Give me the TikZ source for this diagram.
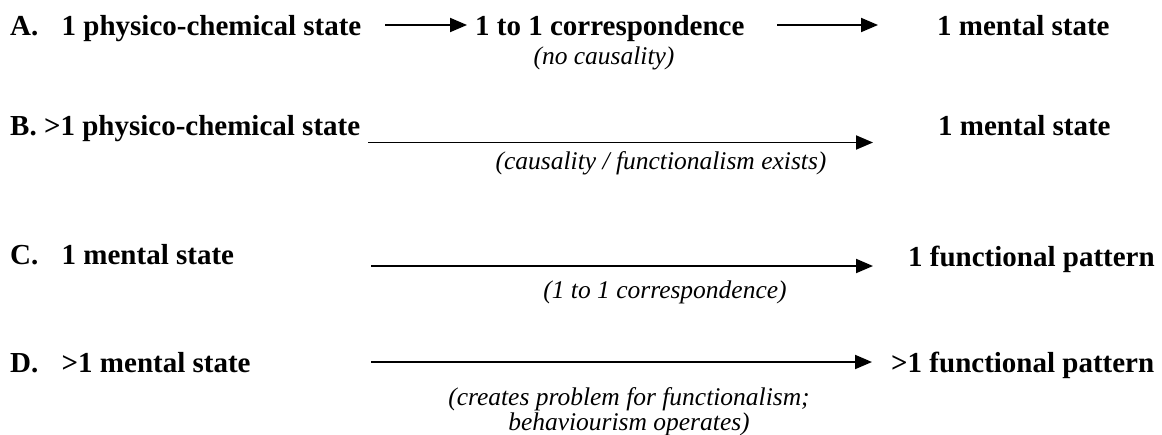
\documentclass[tikz,border=0pt]{standalone}
\usepackage{fontspec}
\setmainfont{Liberation Serif}
\usetikzlibrary{arrows.meta}
\begin{document}
\begin{tikzpicture}[x=1pt,y=-1pt,
  state/.style={inner sep=0pt, anchor=base west, font=\fontsize{29}{34}\selectfont\bfseries},
  note/.style={inner sep=0pt, anchor=base, font=\fontsize{25.5}{23}\selectfont\itshape},
  link/.style={line width=1.9pt, -{Triangle[length=17pt,width=14pt]}}]
\useasboundingbox (0,0) rectangle (1162,434);

% Row A
\node[state] (la) at (10,35) {A.};
\node[state] (sa) at (61.5,35) {1 physico-chemical state};
\node[state] (ca) at (475,35) {1 to 1 correspondence};
\node[note]  (na) at (604,64) {(no causality)};
\node[state] (ma) at (937,35) {1 mental state};
\coordinate (a1s) at (385,25);
\coordinate (a1e) at (467,25);
\coordinate (a2s) at (777,25);
\coordinate (a2e) at (878,25);
\draw[link] (a1s) -- (a1e);
\draw[link] (a2s) -- (a2e);

% Row B
\node[state] (sb) at (10,135.5) {B. >1 physico-chemical state};
\node[state] (mb) at (938,135.5) {1 mental state};
\node[note]  (nb) at (661,169) {(causality / functionalism exists)};
\coordinate (bs) at (368,142.5);
\coordinate (be) at (873,142.5);
\draw[link] (bs) -- (be);

% Row C
\node[state] (lc) at (10,264) {C.};
\node[state] (sc) at (61.5,264) {1 mental state};
\node[state] (fc) at (908,266.5) {1 functional pattern};
\node[note]  (nc) at (665,298.5) {(1 to 1 correspondence)};
\coordinate (cs) at (371,266);
\coordinate (ce) at (873,266);
\draw[link] (cs) -- (ce);

% Row D
\node[state] (ld) at (10,372) {D.};
\node[state] (sd) at (61.5,372) {>1 mental state};
\node[state] (fd) at (891,372) {>1 functional pattern};
\node[note, align=center] (nd) at (629,430) {(creates problem for functionalism;\\behaviourism operates)};
\coordinate (ds) at (371,362);
\coordinate (de) at (872,362);
\draw[link] (ds) -- (de);
\end{tikzpicture}
\end{document}
